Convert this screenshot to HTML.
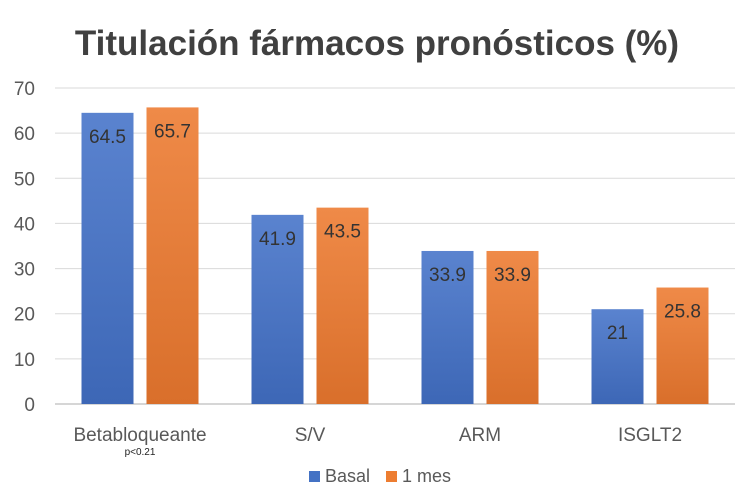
<!DOCTYPE html>
<html><head><meta charset="utf-8"><style>
body{margin:0;background:#fff;}
svg{display:block;font-family:"Liberation Sans",sans-serif;}
</style></head><body>
<svg width="750" height="500">
<defs>
<linearGradient id="gb" x1="0" y1="0" x2="0" y2="1"><stop offset="0" stop-color="#5a83cf"/><stop offset="1" stop-color="#3d67b6"/></linearGradient>
<linearGradient id="go" x1="0" y1="0" x2="0" y2="1"><stop offset="0" stop-color="#ef8a48"/><stop offset="1" stop-color="#d96f2b"/></linearGradient>
</defs>
<text x="377" y="55" text-anchor="middle" font-size="35" font-weight="bold" fill="#404040">Titulación fármacos pronósticos (%)</text>
<g id="grid"></g><g id="bars"></g><g id="labels"></g>
<text x="140" y="455" text-anchor="middle" font-size="10" fill="#222">p&lt;0.21</text>
<g>
<rect x="309" y="471" width="11" height="11" fill="#4472c4"/>
<text x="325" y="482" font-size="18" fill="#595959">Basal</text>
<rect x="386" y="471" width="11" height="11" fill="#ed7d31"/>
<text x="402" y="482" font-size="18" fill="#595959">1 mes</text>
</g>
</svg>
<script>
const categories=["Betabloqueante","S/V","ARM","ISGLT2"];
const basal=[64.5,41.9,33.9,21];
const mes1=[65.7,43.5,33.9,25.8];
const basalLabels=["64.5","41.9","33.9","21"];
const mes1Labels=["65.7","43.5","33.9","25.8"];
const yTicks=[0,10,20,30,40,50,60,70];
const NS="http://www.w3.org/2000/svg";
const x0=55,x1=735,yb=404,yt=88,ymax=70;
const y=v=>yb-(yb-yt)*v/ymax;
const band=(x1-x0)/categories.length;
const cx=i=>x0+band*(i+0.5);
function mk(tag,attrs,parent,txt){const e=document.createElementNS(NS,tag);for(const k in attrs)e.setAttribute(k,attrs[k]);if(txt!==undefined)e.textContent=txt;document.getElementById(parent).appendChild(e);return e;}
yTicks.forEach(t=>{
  const l=mk("line",{x1:x0,x2:x1,y1:y(t),y2:y(t),stroke:t===0?"#c8c8c8":"#dadada","stroke-width":t===0?1.5:1},"grid");
  
  
  const tx=mk("text",{x:35,y:y(t)+7,"text-anchor":"end","font-size":19,fill:"#595959"},"grid",String(t));
  
  
});
const bw=52;
categories.forEach((c,i)=>{
  [[basal,basalLabels,"url(#gb)",-32.5,"basal"],[mes1,mes1Labels,"url(#go)",32.5,"1-mes"]].forEach(([s,lab,f,off,nm])=>{
    const bx=cx(i)+off-bw/2;
    const r=mk("rect",{x:bx,y:y(s[i]),width:bw,height:yb-y(s[i]),fill:f},"bars");
    
    
    const t=mk("text",{x:bx+bw/2,y:y(s[i])+30,"text-anchor":"middle","font-size":19,fill:"#333"},"labels",lab[i]);
    
    
  });
  const ct=mk("text",{x:cx(i),y:441,"text-anchor":"middle","font-size":19,fill:"#595959"},"labels",c);
  
  
});
</script>
</body></html>
